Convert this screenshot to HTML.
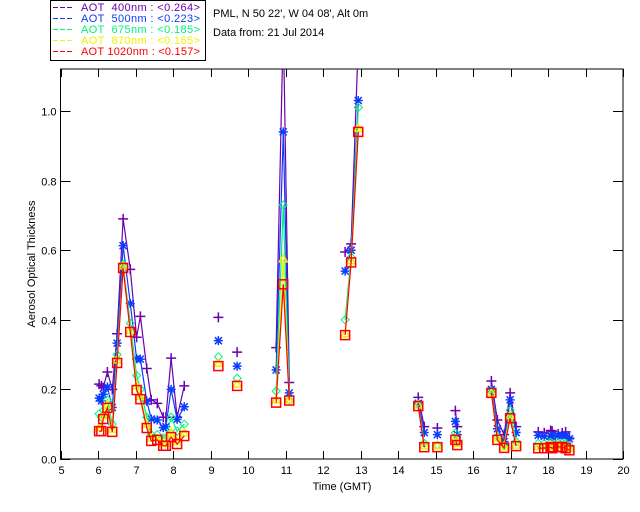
<!DOCTYPE html>
<html><head><meta charset="utf-8"><style>
body{margin:0;background:#fff;}
svg{display:block;font-family:"Liberation Sans",sans-serif;}
.pre{white-space:pre;}
</style></head><body>
<svg id="chart" width="640" height="512">
<g id="legend">
<rect x="50.5" y="0.5" width="155" height="60" fill="#fff" stroke="#000"/>
</g>
<text x="213" y="17" font-size="11">PML, N 50 22', W 04 08', Alt 0m</text>
<text x="213" y="36" font-size="11">Data from: 21 Jul 2014</text>
<defs><clipPath id="clip"><rect x="60.5" y="69" width="562.5" height="390"/></clipPath></defs>
<g id="axes"></g>
<g id="plot" clip-path="url(#clip)"></g>
<text x="342" y="490" font-size="11" text-anchor="middle">Time (GMT)</text>
<text transform="translate(35,264) rotate(-90)" font-size="11" text-anchor="middle">Aerosol Optical Thickness</text>
</svg>
<script>
const times=[6.03,6.09,6.14,6.25,6.38,6.51,6.67,6.86,7.03,7.13,7.30,7.42,7.58,7.74,7.81,7.95,8.11,8.30,
9.21,9.71,10.75,10.94,11.10,12.59,12.75,12.94,
14.54,14.70,15.05,15.53,15.58,16.49,16.65,16.83,16.99,17.15,
17.74,17.90,18.07,18.11,18.27,18.38,18.47,18.57];
const aot400=[0.215,0.21,0.205,0.25,0.2,0.36,0.69,0.545,0.35,0.41,0.26,0.17,0.16,0.12,0.12,0.29,0.12,0.21,
0.407,0.307,0.32,1.25,0.22,0.595,0.618,1.2,
0.177,0.093,0.089,0.139,0.093,0.224,0.112,0.07,0.19,0.093,
0.078,0.075,0.082,0.08,0.072,0.075,0.078,0.06];
const aot500=[0.175,0.167,0.186,0.207,0.148,0.333,0.613,0.447,0.288,0.287,0.166,0.115,0.112,0.09,0.093,0.2,0.114,0.15,
0.34,0.267,0.256,0.94,0.19,0.54,0.6,1.03,
0.16,0.076,0.07,0.108,0.07,0.2,0.087,0.05,0.17,0.076,
0.068,0.065,0.066,0.064,0.067,0.068,0.066,0.058];
const aot675=[0.13,0.12,0.14,0.17,0.1,0.30,0.56,0.39,0.24,0.2,0.12,0.07,0.07,0.06,0.06,0.12,0.08,0.10,
0.294,0.232,0.195,0.73,0.17,0.40,0.58,1.01,
0.155,0.045,0.04,0.075,0.05,0.195,0.065,0.04,0.14,0.05,
0.045,0.044,0.048,0.045,0.047,0.046,0.045,0.038];
const aot870=[0.09,0.09,0.125,0.155,0.085,0.285,0.555,0.37,0.21,0.18,0.1,0.06,0.06,0.045,0.045,0.075,0.05,0.075,
0.275,0.215,0.17,0.575,0.17,0.36,0.57,0.95,
0.155,0.038,0.038,0.06,0.045,0.19,0.06,0.035,0.125,0.04,
0.036,0.036,0.04,0.036,0.04,0.038,0.036,0.03];
const aot1020=[0.08,0.08,0.115,0.147,0.078,0.276,0.549,0.365,0.198,0.172,0.089,0.052,0.055,0.038,0.038,0.063,0.043,0.066,
0.267,0.21,0.162,0.502,0.168,0.356,0.565,0.94,
0.152,0.034,0.034,0.055,0.04,0.19,0.055,0.032,0.117,0.037,
0.031,0.031,0.034,0.031,0.035,0.034,0.031,0.025];
const xTicks=[5,6,7,8,9,10,11,12,13,14,15,16,17,18,19,20];
const yTicks=[0.0,0.2,0.4,0.6,0.8,1.0];
const seriesNames=["AOT  400nm","AOT  500nm","AOT  675nm","AOT  870nm","AOT 1020nm"];
const seriesMeans=["<0.264>","<0.223>","<0.185>","<0.165>","<0.157>"];
const colors=["#6a00b0","#0a3cff","#00f080","#f0f000","#ff0000"];

const X0=60.5,X1=623,Y0=459,YTOP=69;
const xs=t=>X0+(t-5)*(X1-X0)/15;
const ys=v=>Y0-v*348;
const NS="http://www.w3.org/2000/svg";
function mk(tag,attrs,parent){const e=document.createElementNS(NS,tag);for(const k in attrs)e.setAttribute(k,attrs[k]);parent.appendChild(e);return e;}
const axes=document.getElementById('axes'),plot=document.getElementById('plot'),legend=document.getElementById('legend');
const box=mk('rect',{x:X0,y:YTOP,width:X1-X0,height:Y0-YTOP,fill:'none',stroke:'#000','stroke-width':1},axes);


xTicks.forEach(t=>{
  const x=Math.round(xs(t))+0.5;
  mk('line',{x1:x,x2:x,y1:Y0,y2:Y0-8,stroke:'#000'},axes);
  mk('line',{x1:x,x2:x,y1:YTOP,y2:YTOP+8,stroke:'#000'},axes);
  const tx=mk('text',{x:x,y:Y0+15,'font-size':11,'text-anchor':'middle'},axes);
  tx.textContent=t;
  
  
});
yTicks.forEach(v=>{
  const y=Math.round(ys(v))+0.5;
  mk('line',{x1:X0,x2:X0+10,y1:y,y2:y,stroke:'#000'},axes);
  mk('line',{x1:X1,x2:X1-10,y1:y,y2:y,stroke:'#000'},axes);
  const tx=mk('text',{x:X0-4,y:y+4,'font-size':11,'text-anchor':'end'},axes);
  tx.textContent=v.toFixed(1);
  
  
});
const all=[aot400,aot500,aot675,aot870,aot1020];
function marker(k,x,y,c,g){
  if(k===0){mk('path',{d:`M${x-5},${y}H${x+5}M${x},${y-5}V${y+5}`,stroke:c,'stroke-width':1.5,fill:'none'},g);}
  else if(k===1){mk('path',{d:`M${x-4.5},${y}H${x+4.5}M${x},${y-4.5}V${y+4.5}M${x-3.5},${y-3.5}L${x+3.5},${y+3.5}M${x-3.5},${y+3.5}L${x+3.5},${y-3.5}`,stroke:c,'stroke-width':1.5,fill:'none'},g);}
  else if(k===2){mk('path',{d:`M${x},${y-4}L${x+4},${y}L${x},${y+4}L${x-4},${y}Z`,stroke:c,'stroke-width':1,fill:'none'},g);}
  else if(k===3){mk('path',{d:`M${x},${y-4}L${x+4},${y+3}L${x-4},${y+3}Z`,stroke:c,'stroke-width':1.5,fill:'none'},g);}
  else {mk('rect',{x:x-4.5,y:y-4.5,width:9,height:9,stroke:c,'stroke-width':1.5,fill:'none'},g);}
}
all.forEach((vals,k)=>{
  const g=mk('g',{},plot);
  
  
  let d='';
  times.forEach((t,i)=>{
    const x=xs(t),y=ys(vals[i]);
    d+=(i===0||t-times[i-1]>0.3?'M':'L')+x.toFixed(1)+','+y.toFixed(1);
  });
  mk('path',{d:d,stroke:colors[k],'stroke-width':1.2,fill:'none'},g);
  times.forEach((t,i)=>marker(k,xs(t),ys(vals[i]),colors[k],g));
  const ly=11+k*11;
  mk('line',{x1:53,x2:73,y1:ly-3.5,y2:ly-3.5,stroke:colors[k],'stroke-dasharray':'5,2'},legend);
  const lt=mk('text',{x:81,y:ly,'font-size':11,fill:colors[k],class:'pre',textLength:119,lengthAdjust:'spacing'},legend);
  lt.textContent=seriesNames[k]+' : '+seriesMeans[k];
  
  
});
</script>
</body></html>
